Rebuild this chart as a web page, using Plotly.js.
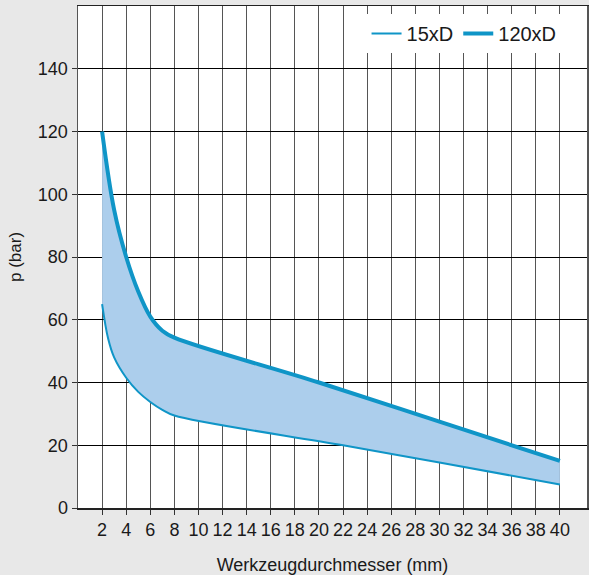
<!DOCTYPE html>
<html>
<head>
<meta charset="utf-8">
<script src="https://cdn.plot.ly/plotly-3.0.1.min.js"></script>
<style>
  html, body { margin: 0; padding: 0; background: #e8e8e8; }
  #chart { width: 589px; height: 575px; }
</style>
</head>
<body>
<div id="chart"></div>
<script>
// Data
var dia15 = [2, 2.5, 3, 4, 5, 6, 7, 8, 22, 30, 40];
var p15   = [65, 54, 48, 41.5, 37, 33.8, 31.3, 29.5, 20, 14.5, 7.5];

var dia120 = [2, 3, 4, 5, 6, 7, 8, 20, 30, 40];
var p120   = [120, 95, 80, 69, 61, 56.5, 54.3, 40, 27.5, 15];

var seriesNames = ['15xD', '120xD'];
var xTicks = [2, 4, 6, 8, 10, 12, 14, 16, 18, 20, 22, 24, 26, 28, 30, 32, 34, 36, 38, 40];
var yTicks = [0, 20, 40, 60, 80, 100, 120, 140];

var lineColor = '#0f95c7';
var fillColor = '#acceec';
var FONT = '"Liberation Sans", Arial, Helvetica, sans-serif';
var SM = 1;

var traces = [
  { x: dia15, y: p15, type: 'scatter', mode: 'lines',
    line: { width: 0, shape: 'spline', smoothing: SM }, showlegend: false, hoverinfo: 'skip' },
  { x: dia120, y: p120, type: 'scatter', mode: 'lines', fill: 'tonexty', fillcolor: fillColor,
    line: { width: 0, shape: 'spline', smoothing: SM }, showlegend: false, hoverinfo: 'skip' },
  { x: dia15, y: p15, type: 'scatter', mode: 'lines', name: seriesNames[0],
    line: { color: lineColor, width: 2, shape: 'spline', smoothing: SM } },
  { x: dia120, y: p120, type: 'scatter', mode: 'lines', name: seriesNames[1],
    line: { color: lineColor, width: 4, shape: 'spline', smoothing: SM } }
];

var layout = {
  width: 589, height: 575,
  paper_bgcolor: '#e8e8e8',
  plot_bgcolor: '#ffffff',
  margin: { l: 78, r: 2, t: 6, b: 67, pad: 0 },
  font: { family: FONT, size: 18, color: '#1a1a1a' },
  showlegend: true,
  legend: {
    orientation: 'h', x: 0.95, xanchor: 'right', y: 0.945, yanchor: 'middle',
    bgcolor: '#ffffff', borderwidth: 0,
    font: { family: FONT, size: 20, color: '#1a1a1a' },
    traceorder: 'normal', itemwidth: 30
  },
  xaxis: {
    range: [0, 42.25], tickvals: xTicks, ticktext: xTicks.map(String),
    ticks: 'outside', ticklen: 5, tickcolor: '#333', tickwidth: 1,
    showgrid: true, gridcolor: '#555555', gridwidth: 1,
    showline: true, linecolor: '#222', linewidth: 1.5, mirror: true,
    zeroline: false,
    tickfont: { family: FONT, size: 18, color: '#1a1a1a' },
    title: { text: 'Werkzeugdurchmesser (mm)', font: { family: FONT, size: 18, color: '#1a1a1a' }, standoff: 20 }
  },
  yaxis: {
    range: [0, 160], tickvals: yTicks, ticktext: yTicks.map(String),
    ticks: 'outside', ticklen: 5, tickcolor: '#333', tickwidth: 1,
    showgrid: true, gridcolor: '#000000', gridwidth: 1,
    showline: true, linecolor: '#555', linewidth: 1.5, mirror: true,
    zeroline: false,
    tickfont: { family: FONT, size: 18, color: '#1a1a1a' },
    title: { text: 'p (bar)', font: { family: FONT, size: 17, color: '#1a1a1a' }, standoff: 12 }
  },
  hovermode: false
};

Plotly.newPlot('chart', traces, layout, { displayModeBar: false, staticPlot: true });
</script>
</body>
</html>
